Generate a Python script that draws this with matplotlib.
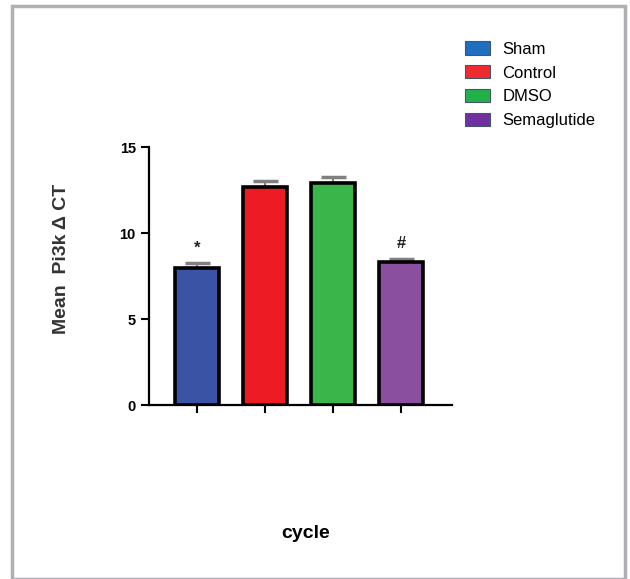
import matplotlib
matplotlib.use('Agg')
import matplotlib.pyplot as plt
from matplotlib.patches import Patch, Rectangle

groups = ['Sham', 'Control', 'DMSO', 'Semaglutide']
means = [7.95, 12.65, 12.9, 8.3]
errs = [0.3, 0.35, 0.35, 0.2]
marks = ['*', '', '', '#']
bar_colors = ['#3a53a4', '#ed1c24', '#39b54a', '#8a4f9e']
legend_colors = ['#1f6fc0', '#ee2b2f', '#22b04b', '#7030a0']
yticks = [0, 5, 10, 15]

plt.rcParams['font.family'] = ['Liberation Sans', 'DejaVu Sans']

fig = plt.figure(figsize=(6.3, 5.79), dpi=100)
ax = fig.add_axes([0.2365, 0.3005, 0.481, 0.4455])

x = range(len(groups))
ax.bar(x, means, width=0.64, color=bar_colors, edgecolor='black', linewidth=2.6, zorder=3)
ax.errorbar(x, means, yerr=[[0] * 4, errs], fmt='none', ecolor='#808080',
            elinewidth=1.5, capsize=9, capthick=2.5, zorder=2)
for i, m in enumerate(marks):
    if m:
        ax.text(i, means[i] + errs[i] + 0.45, m, ha='center', va='bottom',
                fontsize=12, fontweight='bold', color='#222222')

ax.set_xlim(-0.71, 3.75)
ax.set_ylim(0, 15)
ax.set_yticks(yticks)
ax.set_yticklabels([str(t) for t in yticks], fontsize=10.5, fontweight='bold')
ax.set_xticks(list(x))
ax.set_xticklabels([])
ax.tick_params(axis='both', width=1.5, length=6)
for s in ['top', 'right']:
    ax.spines[s].set_visible(False)
for s in ['left', 'bottom']:
    ax.spines[s].set_linewidth(1.6)

fig.text(0.098, 0.553, u'Mean  Pi3k \u0394 CT', rotation=90, ha='center', va='center',
         fontsize=14, fontweight='bold', color='#333333')
fig.text(0.485, 0.079, 'cycle', ha='center', va='center', fontsize=14, fontweight='bold')

handles = [Patch(facecolor=c, edgecolor='#445566', linewidth=0.8) for c in legend_colors]
fig.legend(handles, groups, loc='upper left', bbox_to_anchor=(0.727, 0.94),
           frameon=False, fontsize=12, handlelength=1.5, handleheight=0.85,
           labelspacing=0.5, handletextpad=0.75, borderaxespad=0)

fig.add_artist(Rectangle((0.019, 0.0), 0.973, 0.99, transform=fig.transFigure,
                         fill=False, edgecolor='#b0b0b4', linewidth=2.5))

plt.savefig('out.png', dpi=100)
